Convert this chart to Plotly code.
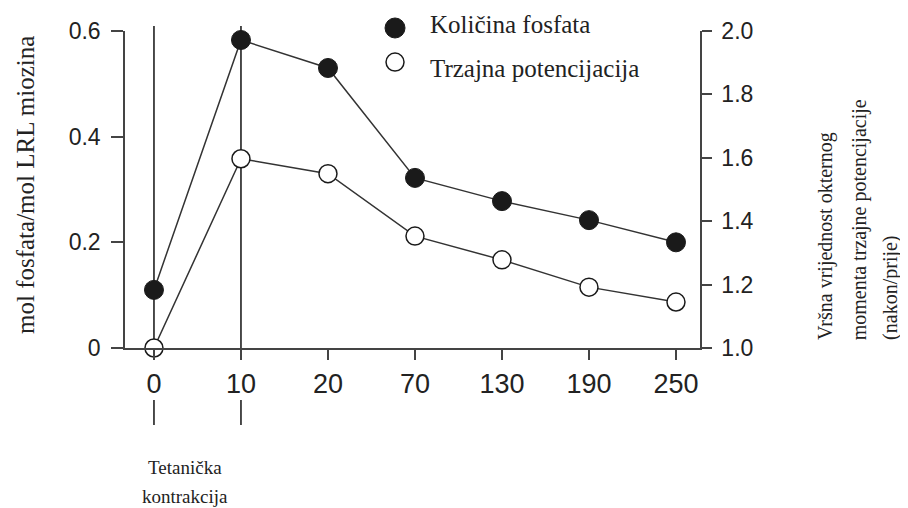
import plotly.graph_objects as go

categories = ["0", "10", "20", "70", "130", "190", "250"]
fosfat = [0.11, 0.583, 0.53, 0.322, 0.278, 0.242, 0.20]
potenc = [1.0, 1.597, 1.55, 1.353, 1.278, 1.192, 1.145]
left_ticks = [0, 0.2, 0.4, 0.6]
left_ticktext = ["0", "0.2", "0.4", "0.6"]
right_ticks = [1.0, 1.2, 1.4, 1.6, 1.8, 2.0]
right_ticktext = ["1.0", "1.2", "1.4", "1.6", "1.8", "2.0"]
event_cats = ["0", "10"]
legend_names = ["Količina fosfata", "Trzajna potencijacija"]

SERIF = "Liberation Serif, Times New Roman, serif"
SANS = "Liberation Sans, Arial, sans-serif"
AX = "#444444"
TXT = "#222222"
DARK = "#1a1a1a"

fig = go.Figure()
fig.add_trace(go.Scatter(
    x=categories, y=fosfat, mode="lines+markers", showlegend=False,
    line=dict(color="#333333", width=1.5),
    marker=dict(size=19, color=DARK, line=dict(color=DARK, width=1)),
    cliponaxis=False, yaxis="y"))
fig.add_trace(go.Scatter(
    x=categories, y=potenc, mode="lines+markers", showlegend=False,
    line=dict(color="#333333", width=1.5),
    marker=dict(size=18, color="white", line=dict(color=DARK, width=1.5)),
    cliponaxis=False, yaxis="y2"))

shapes = []
for c in event_cats:
    xi = categories.index(c)
    shapes.append(dict(type="line", xref="x", yref="paper", x0=xi, x1=xi, y0=0, y1=1.016,
                       line=dict(color="#111111", width=1.5), layer="below"))
    shapes.append(dict(type="line", xref="x", yref="paper", x0=xi, x1=xi, y0=-0.164, y1=-0.243,
                       line=dict(color="#111111", width=1.5)))

# legend glyphs (drawn manually)
leg_x = 0.4696
leg_y = [1.0095, 0.902]
shapes.append(dict(type="circle", xref="paper", yref="paper", xsizemode="pixel", ysizemode="pixel",
                   xanchor=leg_x, yanchor=leg_y[0], x0=-10, x1=10, y0=-10, y1=10,
                   fillcolor=DARK, line=dict(color=DARK, width=1)))
shapes.append(dict(type="circle", xref="paper", yref="paper", xsizemode="pixel", ysizemode="pixel",
                   xanchor=leg_x, yanchor=leg_y[1], x0=-9, x1=9, y0=-9, y1=9,
                   fillcolor="white", line=dict(color=DARK, width=1.5)))

def ann(text, x, y, size, angle=0, xa="center", ya="middle"):
    return dict(text=text, xref="paper", yref="paper", x=x, y=y, textangle=angle,
                showarrow=False, font=dict(family=SERIF, size=size, color=TXT),
                xanchor=xa, yanchor=ya)

annotations = [
    ann("mol fosfata/mol LRL miozina", -0.174, 0.514, 25, -90),
    ann("Vršna vrijednost okternog", 1.219, 0.019, 20, -90, ya="bottom"),
    ann("momenta trzajne potencijacije", 1.278, 0.019, 20, -90, ya="bottom"),
    ann("(nakon/prije)", 1.332, 0.019, 20, -90, ya="bottom"),
    ann("Tetanička", 0.104, -0.3785, 19),
    ann("kontrakcija", 0.104, -0.467, 19),
    ann(legend_names[0], 0.527, 1.019, 25, xa="left"),
    ann(legend_names[1], 0.527, 0.883, 25, xa="left"),
]

# page body has an 8px default margin, so the figure is 8px smaller than the window
fig.update_layout(
    width=900, height=500,
    margin=dict(l=117, r=208, t=23, b=160),
    paper_bgcolor="white", plot_bgcolor="white", showlegend=False,
    shapes=shapes, annotations=annotations,
    xaxis=dict(type="category", categoryorder="array", categoryarray=categories,
               range=[-0.333, 6.276], showline=True, linecolor=AX, linewidth=1.5,
               ticks="outside", ticklen=10, tickwidth=1.5, tickcolor=AX,
               tickfont=dict(family=SANS, size=27, color=TXT), showgrid=False,
               zeroline=False, ticklabelstandoff=1, automargin=False),
    yaxis=dict(range=[0, 0.6], tickvals=left_ticks, ticktext=left_ticktext,
               showline=True, linecolor=AX, linewidth=1.5,
               ticks="outside", ticklen=12, tickwidth=1.5, tickcolor=AX,
               tickfont=dict(family=SANS, size=23, color=TXT), showgrid=False,
               zeroline=False, ticklabelstandoff=6, automargin=False),
    yaxis2=dict(range=[1.0, 2.0], tickvals=right_ticks, ticktext=right_ticktext,
                overlaying="y", side="right",
                showline=True, linecolor=AX, linewidth=1.5,
                ticks="outside", ticklen=10, tickwidth=1.5, tickcolor=AX,
                tickfont=dict(family=SANS, size=23, color=TXT), showgrid=False,
                zeroline=False, ticklabelstandoff=5, automargin=False),
)

fig.write_html("out.html")
